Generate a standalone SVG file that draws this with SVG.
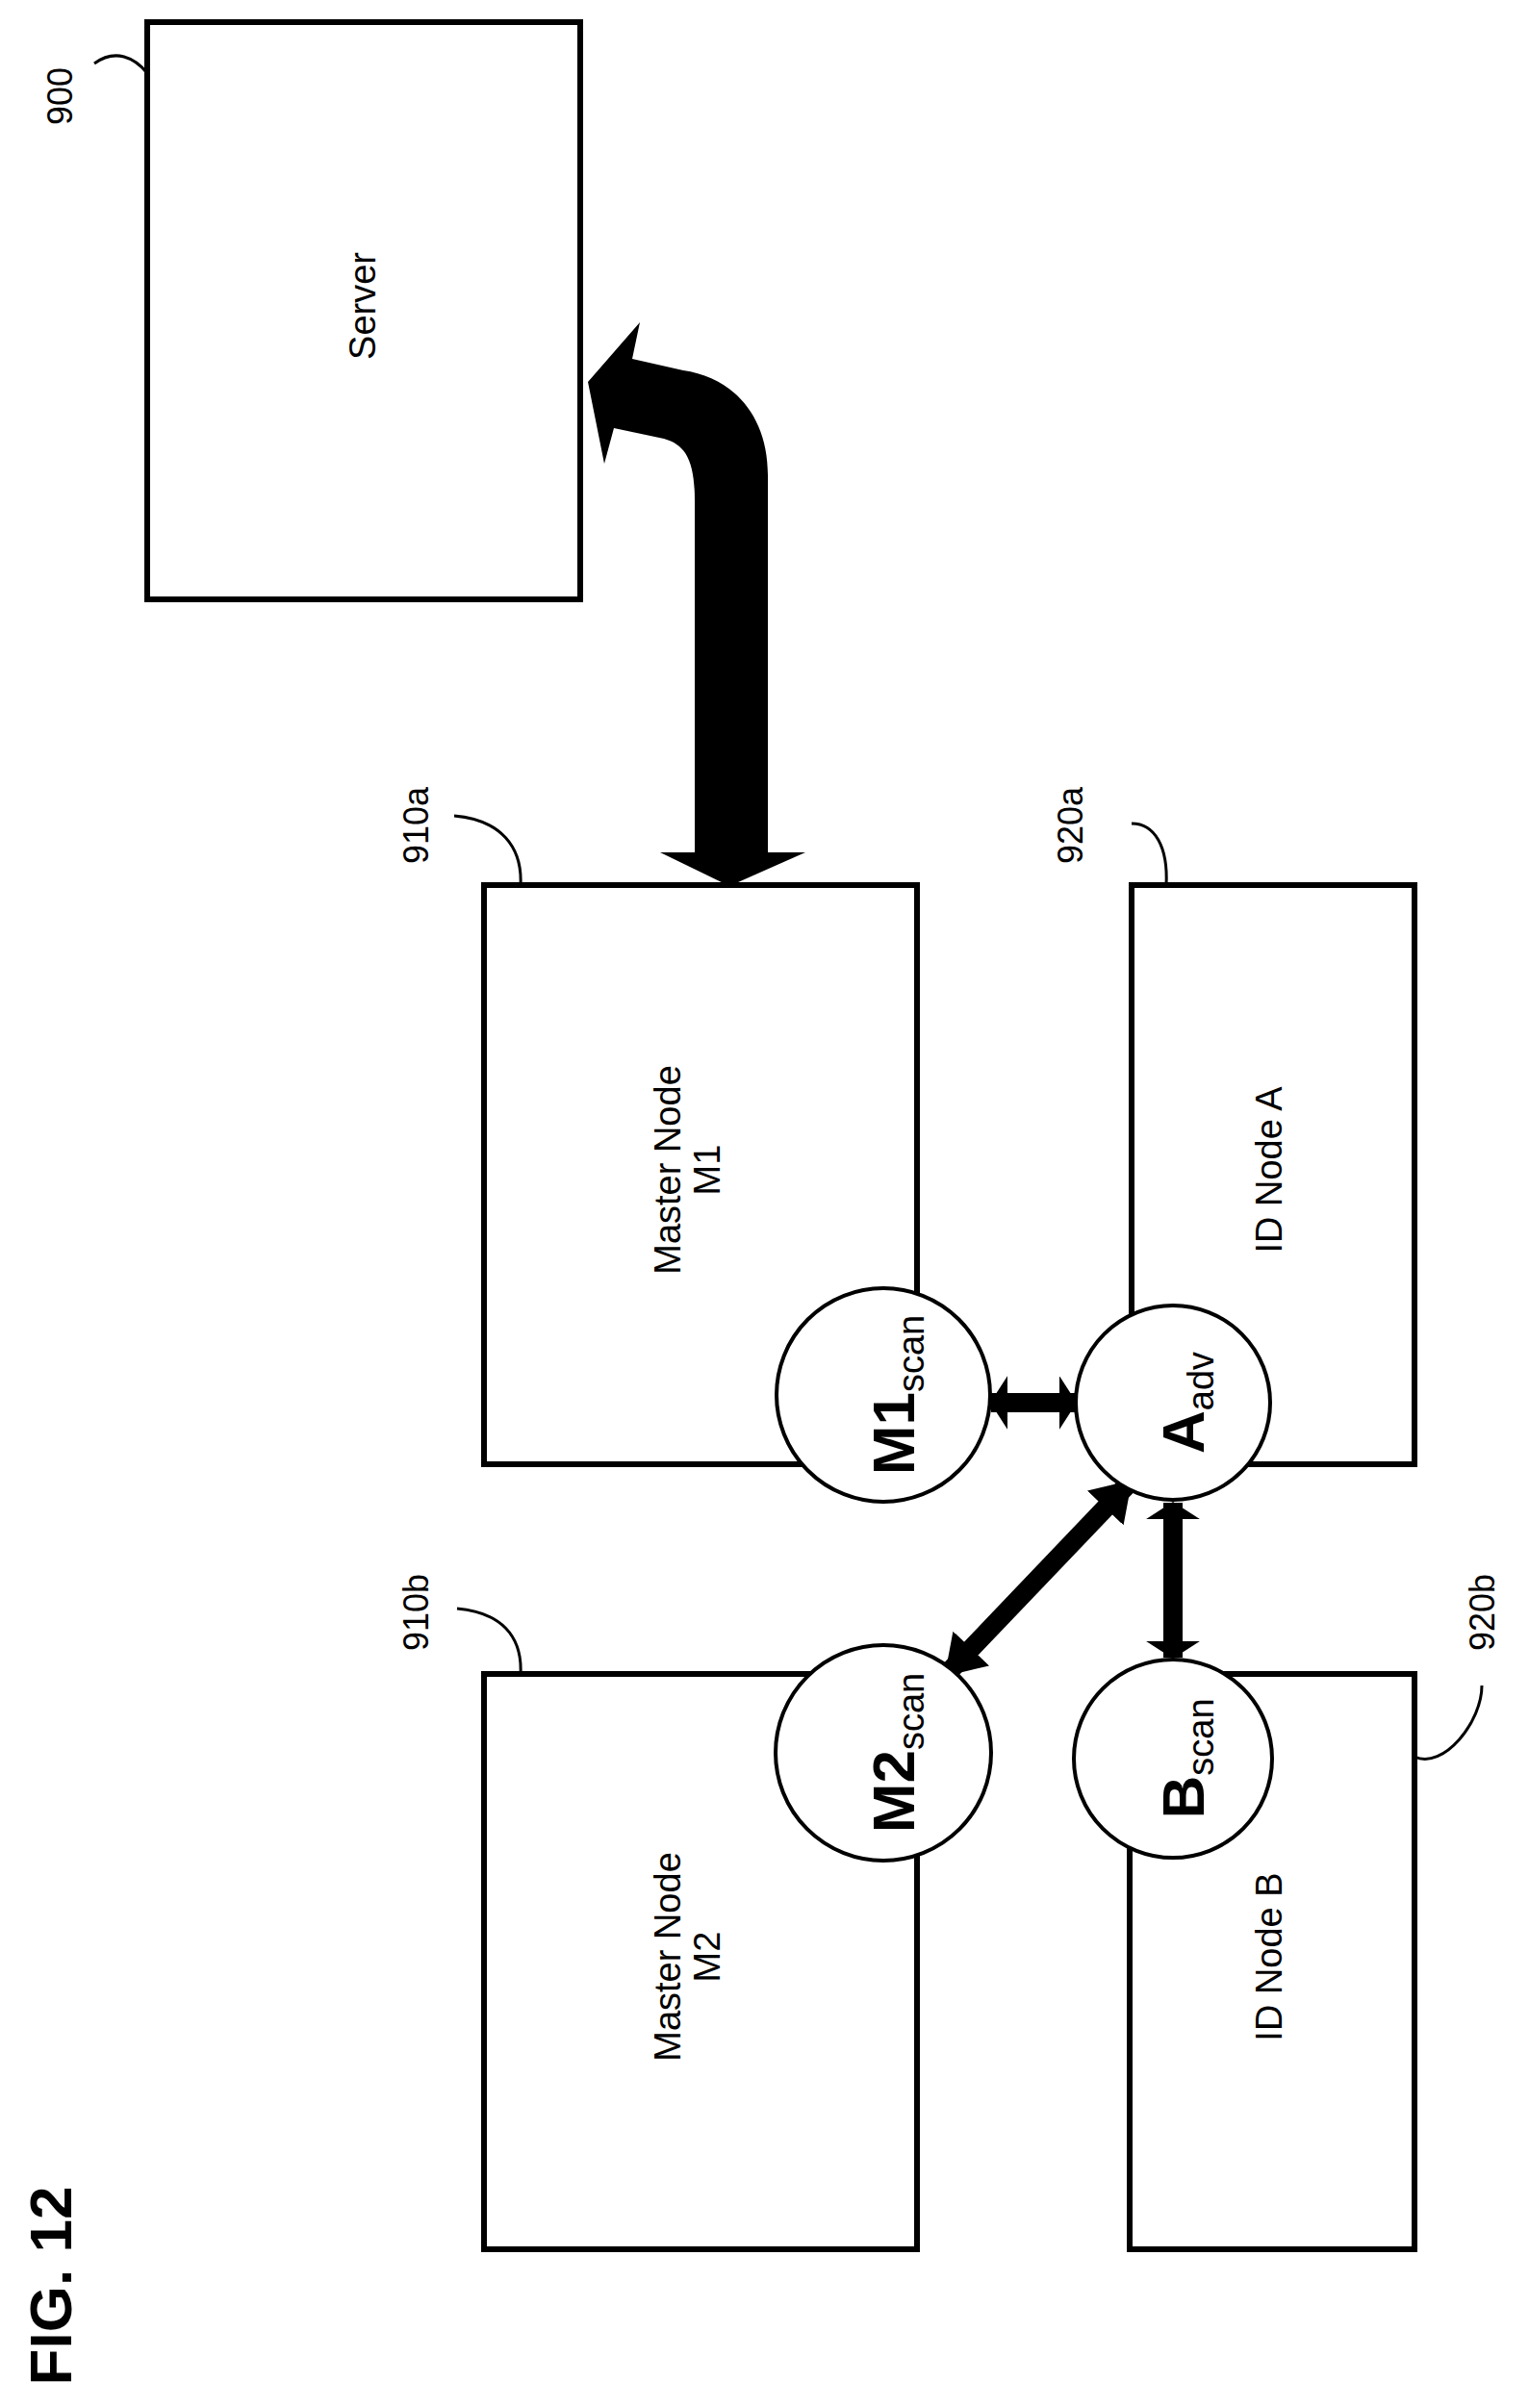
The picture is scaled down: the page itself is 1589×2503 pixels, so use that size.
<svg xmlns="http://www.w3.org/2000/svg" width="1589" height="2503" viewBox="0 0 1589 2503">
<style>
.box{fill:#fff;stroke:#000;stroke-width:6}
.circ{fill:#fff;stroke:#000;stroke-width:4}
.lead{fill:none;stroke:#000;stroke-width:3}
.t{font-family:"Liberation Sans",Arial,sans-serif;font-size:38px;fill:#000;text-anchor:middle}
.r{font-family:"Liberation Sans",Arial,sans-serif;font-size:36px;fill:#000;text-anchor:middle}
.c{font-family:"Liberation Sans",Arial,sans-serif;font-size:62px;font-weight:bold;fill:#000;text-anchor:middle}
.s{font-size:38px;font-weight:normal}
.conn{stroke:#000;stroke-width:20;fill:none}
</style>
<defs>
<marker id="ah" viewBox="0 0 10 10" refX="9.5" refY="5" markerWidth="0.9" markerHeight="2.8" orient="auto-start-reverse" preserveAspectRatio="none">
<path d="M0,0 L10,5 L0,10 Z" fill="#000"/>
</marker>
<marker id="ahl" viewBox="0 0 10 10" refX="9.5" refY="5" markerWidth="2" markerHeight="2.6" orient="auto-start-reverse" preserveAspectRatio="none">
<path d="M0,0 L10,5 L0,10 Z" fill="#000"/>
</marker>
</defs>
<g id="fig"><text class="c" font-size="60" transform="translate(52,2376) rotate(-90)" dy="0.35em">FIG. 12</text></g>
<g id="server">
<rect class="box" x="153" y="23" width="450" height="600"/>
<text class="t" transform="translate(377,318) rotate(-90)" dy="0.35em">Server</text>
<path class="lead" d="M98,66 C120,50 140,60 153,76"/>
<text class="r" transform="translate(62,100) rotate(-90)" dy="0.35em">900</text>
</g>
<g id="m1">
<rect class="box" x="503" y="920" width="450" height="602"/>
<text class="t" transform="translate(694,1216) rotate(-90)" dy="0.35em">Master Node</text>
<text class="t" transform="translate(735,1216) rotate(-90)" dy="0.35em">M1</text>
<path class="lead" d="M472,848 C520,852 543,880 541,920"/>
<text class="r" transform="translate(432,858) rotate(-90)" dy="0.35em">910a</text>
</g>
<g id="ida">
<rect class="box" x="1176" y="920" width="294" height="602"/>
<text class="t" transform="translate(1319,1216) rotate(-90)" dy="0.35em">ID Node A</text>
<path class="lead" d="M1176,856 C1200,856 1214,880 1212,920"/>
<text class="r" transform="translate(1112,858) rotate(-90)" dy="0.35em">920a</text>
</g>
<g id="m2">
<rect class="box" x="503" y="1740" width="450" height="598"/>
<text class="t" transform="translate(694,2034) rotate(-90)" dy="0.35em">Master Node</text>
<text class="t" transform="translate(735,2034) rotate(-90)" dy="0.35em">M2</text>
<path class="lead" d="M475,1672 C520,1676 543,1700 541,1740"/>
<text class="r" transform="translate(432,1676) rotate(-90)" dy="0.35em">910b</text>
</g>
<g id="idb">
<rect class="box" x="1174" y="1740" width="296" height="598"/>
<text class="t" transform="translate(1319,2034) rotate(-90)" dy="0.35em">ID Node B</text>
<path class="lead" d="M1470,1826 C1500,1840 1540,1790 1540,1752"/>
<text class="r" transform="translate(1540,1676) rotate(-90)" dy="0.35em">920b</text>
</g>
<g id="connectors">
<path fill="#000" d="M758,921 L837,886 L798,886 L798,494 C798,430 760,392 710,385 L657,373 L665,335 L611,397 L628,482 L638,445 L690,456 C712,462 722,478 722,520 L722,886 L686,886 Z"/>
<line class="conn" x1="1030" y1="1458" x2="1118" y2="1458" marker-start="url(#ah)" marker-end="url(#ah)"/>
<line class="conn" x1="1175" y1="1540" x2="983" y2="1741" marker-start="url(#ahl)" marker-end="url(#ahl)"/>
<line class="conn" x1="1219" y1="1562" x2="1219" y2="1723" marker-start="url(#ah)" marker-end="url(#ah)"/>
</g>
<g id="m1scan"><circle class="circ" cx="918" cy="1450" r="111"/>
<text class="c" transform="translate(928,1450) rotate(-90)" dy="0.35em">M1<tspan class="s" dy="10">scan</tspan></text></g>
<g id="aadv"><circle class="circ" cx="1219" cy="1458" r="101"/>
<text class="c" transform="translate(1229,1458) rotate(-90)" dy="0.35em">A<tspan class="s" dy="10">adv</tspan></text></g>
<g id="m2scan"><circle class="circ" cx="918" cy="1822" r="112"/>
<text class="c" transform="translate(928,1822) rotate(-90)" dy="0.35em">M2<tspan class="s" dy="10">scan</tspan></text></g>
<g id="bscan"><circle class="circ" cx="1219" cy="1828" r="103"/>
<text class="c" transform="translate(1229,1828) rotate(-90)" dy="0.35em">B<tspan class="s" font-weight="bold" font-size="42" dy="10">scan</tspan></text></g>
</svg>
